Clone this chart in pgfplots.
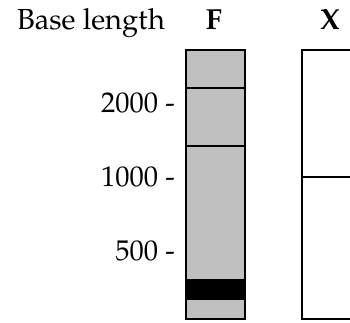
\documentclass[border=0pt]{standalone}
\usepackage{fontspec}
\setmainfont{texgyrepagella}[Extension=.otf, UprightFont=*-regular, BoldFont=*-bold, ItalicFont=*-italic, BoldItalicFont=*-bolditalic]
\usepackage{pgfplots}
\pgfplotsset{compat=1.18}
\definecolor{gelgray}{RGB}{192,192,192}
\begin{document}
\begin{tikzpicture}[x=1pt,y=1pt]
\path[use as bounding box] (0,0) rectangle (350,322);
\begin{axis}[
  at={(186pt,3pt)}, anchor=south west,
  width=164pt, height=269pt, scale only axis,
  xmin=186, xmax=350,
  ymode=log, ymin=264, ymax=3286,
  clip=false,
  axis line style={draw=none},
  xtick=\empty,
  ytick={500,1000,2000},
  yticklabels={500 -,1000 -,2000 -},
  yminorticks=false,
  major tick length=0pt,
  ytick style={draw=none},
  yticklabel style={anchor=east, inner sep=0pt, xshift=-11pt, font=\fontsize{28.5}{34}\selectfont},
]
% F lane
\addplot[draw=black, line width=1.3pt, fill=gelgray, mark=none] coordinates {(186,264) (245,264) (245,3286) (186,3286)} -- cycle;
\addplot[draw=none, fill=black, mark=none] coordinates {(186,316) (245,316) (245,385) (186,385)} -- cycle;
\addplot[draw=black, line width=1.3pt, mark=none] coordinates {(186,2302) (245,2302)};
\addplot[draw=black, line width=1.3pt, mark=none] coordinates {(186,1337) (245,1337)};
% X lane
\addplot[draw=black, line width=1.3pt, fill=white, mark=none] coordinates {(302,264) (420,264) (420,3286) (302,3286)} -- cycle;
\addplot[draw=black, line width=1.3pt, mark=none] coordinates {(302,1000) (420,1000)};
\end{axis}
\node[anchor=base west, inner sep=0pt, font=\fontsize{29}{34}\selectfont] at (17,292) {Base length};
\node[anchor=base, inner sep=0pt, font=\fontsize{29}{34}\selectfont\bfseries] at (214,292) {F};
\node[anchor=base, inner sep=0pt, font=\fontsize{29}{34}\selectfont\bfseries] at (330,292) {X};
\end{tikzpicture}
\end{document}
